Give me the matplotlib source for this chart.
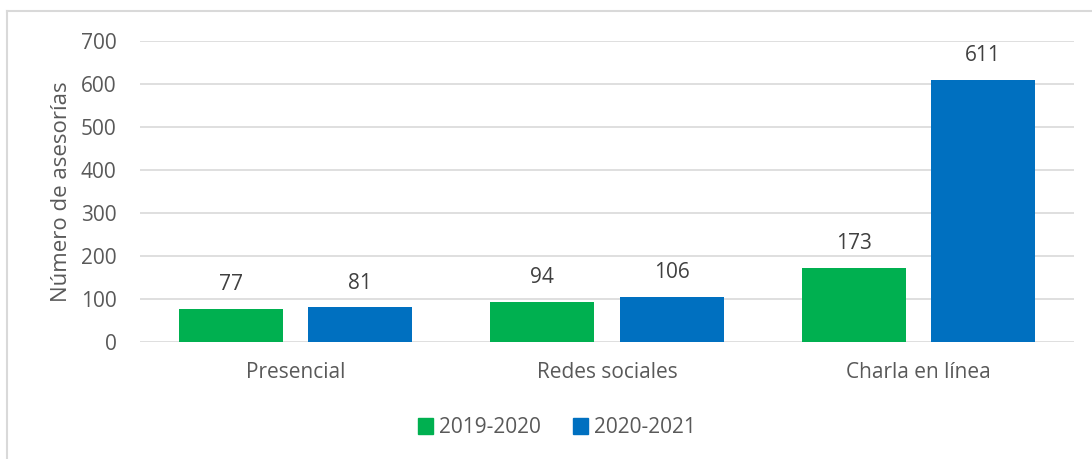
import numpy as np
import matplotlib.pyplot as plt
from matplotlib.lines import Line2D
from matplotlib.patches import Patch

# data
categories = ['Presencial', 'Redes sociales', 'Charla en línea']
series_names = ['2019-2020', '2020-2021']
values_1920 = [77, 94, 173]
values_2021 = [81, 106, 611]
colors = ['#00B050', '#0070C0']

plt.rcParams['font.family'] = ['Open Sans', 'DejaVu Sans']

fig = plt.figure(figsize=(10.92, 4.59), dpi=100)
ax = fig.add_axes([0.1282, 0.2542, 0.8553, 0.6558])

x = np.arange(len(categories))
width = 0.334
offset = 0.208

bars1 = ax.bar(x - offset, values_1920, width, color=colors[0], label=series_names[0], zorder=3)
bars2 = ax.bar(x + offset, values_2021, width, color=colors[1], label=series_names[1], zorder=3)

# data labels
for bars in (bars1, bars2):
    for b in bars:
        ax.annotate(str(int(b.get_height())), (b.get_x() + b.get_width() / 2, b.get_height()),
                    xytext=(0, 10), textcoords='offset points', ha='center', va='bottom',
                    fontsize=15, color='#404040')

ax.set_xlim(-0.5, 2.5)
ax.set_ylim(0, 700)
ax.set_yticks(range(0, 701, 100))
ax.set_xticks(x)
ax.set_xticklabels(categories)
ax.grid(axis='y', color='#D9D9D9', linewidth=1.2, zorder=0)
for s in ax.spines.values():
    s.set_visible(False)
ax.tick_params(length=0, labelsize=15, colors='#595959')
ax.tick_params(axis='y', pad=17)
ax.tick_params(axis='x', pad=14)
ax.set_ylabel('Número de asesorías', fontsize=16, color='#595959', labelpad=6)

handles = [Patch(color=c, label=n) for c, n in zip(colors, series_names)]
fig.legend(handles=handles, loc='center', bbox_to_anchor=(0.51, 0.068), ncol=2, frameon=False,
           fontsize=15, labelcolor='#595959', handlelength=0.75, handleheight=0.75,
           handletextpad=0.3, columnspacing=1.5)

# chart border (left and top visible)
fig.add_artist(Line2D([0.0064, 0.0064], [0, 0.976], color='#D9D9D9', linewidth=1.5))
fig.add_artist(Line2D([0.0064, 1.0], [0.976, 0.976], color='#D9D9D9', linewidth=1.5))

fig.savefig('out.png', dpi=100)
